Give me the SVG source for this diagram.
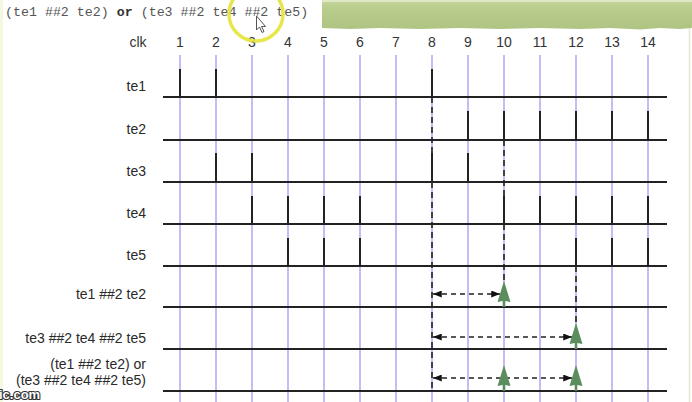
<svg xmlns="http://www.w3.org/2000/svg" width="692" height="402" viewBox="0 0 692 402">
<defs>
<style>
.bg{fill:#ffffff}
.grid{stroke:#bba9f6;stroke-width:1.6;fill:none}
.base{stroke:#222;stroke-width:2;fill:none}
.pulse{stroke:#222;stroke-width:2;fill:none}
.vdash{stroke:#222;stroke-width:1.6;stroke-dasharray:6 4;fill:none}
.hdash{stroke:#222;stroke-width:1.4;stroke-dasharray:5 4;fill:none}
.lbl{font-family:"Liberation Sans",Arial,sans-serif;font-size:14px;fill:#2a2a2a;text-anchor:end}
.num{font-family:"Liberation Sans",Arial,sans-serif;font-size:14px;fill:#333;text-anchor:middle}
.title{font-family:"Liberation Mono","Courier New",monospace;font-size:13.3px;fill:#555}
.garrow{fill:#5b8d5f}
</style>
<marker id="ah" viewBox="0 0 10 8" refX="10" refY="4" markerWidth="11" markerHeight="7" markerUnits="userSpaceOnUse" orient="auto-start-reverse">
<path d="M0,0 L10,4 L0,8 z" fill="#111"/>
</marker>
<path id="gup" d="M0,-26 L6.5,-5 L1.3,-6 L1.3,0 L-1.3,0 L-1.3,-6 L-6.5,-5 Z"/>
<linearGradient id="banner" x1="0" y1="0" x2="0" y2="1">
<stop offset="0" stop-color="#c6d79f"/>
<stop offset="0.3" stop-color="#b8cc8b"/>
<stop offset="1" stop-color="#afc482"/>
</linearGradient>
</defs>
<rect class="bg" x="0" y="0" width="692" height="402"/>
<rect x="0" y="0" width="3" height="402" fill="#f4f8df"/>
<line x1="689.5" y1="28" x2="689.5" y2="402" stroke="#e2e9cf" stroke-width="1.5"/>
<g id="banner-bar">
<path d="M322,0 H692 V28 L680,29 L660,28 L640,29.5 L610,28 L580,29 L540,28 L500,29 L460,28 L420,29 L380,28 L350,29 L322,28 Z" fill="url(#banner)"/>
<rect x="322" y="0" width="370" height="2" fill="#dfe8c6"/>
</g>
<g id="title">
<text class="title" x="5" y="16">(te1 ##2 te2) <tspan font-weight="bold" fill="#333">or</tspan> (te3 ##2 te4 ##2 te5)</text>
</g>
<g id="clock-grid">
<path class="grid" d="M180,55V402 M216,55V402 M252,55V402 M288,55V402 M324,55V402 M360,55V402 M396,55V402 M432,55V402 M468,55V402 M504,55V402 M540,55V402 M576,55V402 M612,55V402 M648,55V402"/>
<text class="num" x="138" y="47" font-size="13">clk</text>
<text class="num" x="180" y="47">1</text>
<text class="num" x="216" y="47">2</text>
<text class="num" x="252" y="47">3</text>
<text class="num" x="288" y="47">4</text>
<text class="num" x="324" y="47">5</text>
<text class="num" x="360" y="47">6</text>
<text class="num" x="396" y="47">7</text>
<text class="num" x="432" y="47">8</text>
<text class="num" x="468" y="47">9</text>
<text class="num" x="504" y="47">10</text>
<text class="num" x="540" y="47">11</text>
<text class="num" x="576" y="47">12</text>
<text class="num" x="612" y="47">13</text>
<text class="num" x="648" y="47">14</text>
</g>
<g id="row-te1">
<text class="lbl" x="146" y="91">te1</text>
<line class="base" x1="163" y1="97" x2="667" y2="97"/>
<path class="pulse" d="M180,97V69 M216,97V69 M432,97V69"/>
</g>
<g id="row-te2">
<text class="lbl" x="146" y="134">te2</text>
<line class="base" x1="163" y1="140" x2="667" y2="140"/>
<path class="pulse" d="M468,140V111 M504,140V111 M540,140V111 M576,140V111 M612,140V111 M648,140V111"/>
</g>
<g id="row-te3">
<text class="lbl" x="146" y="176">te3</text>
<line class="base" x1="163" y1="182" x2="667" y2="182"/>
<path class="pulse" d="M216,182V153 M252,182V153 M432,182V153 M468,182V153"/>
</g>
<g id="row-te4">
<text class="lbl" x="146" y="218">te4</text>
<line class="base" x1="163" y1="224" x2="667" y2="224"/>
<path class="pulse" d="M252,224V196 M288,224V196 M324,224V196 M360,224V196 M504,224V196 M540,224V196 M576,224V196 M612,224V196 M648,224V196"/>
</g>
<g id="row-te5">
<text class="lbl" x="146" y="260">te5</text>
<line class="base" x1="163" y1="266" x2="667" y2="266"/>
<path class="pulse" d="M288,266V238 M324,266V238 M360,266V238 M576,266V238 M612,266V238 M648,266V238"/>
</g>
<g id="row-seq1">
<text class="lbl" x="146" y="299">te1 ##2 te2</text>
<line class="base" x1="163" y1="307" x2="667" y2="307"/>
</g>
<g id="row-seq2">
<text class="lbl" x="146" y="343">te3 ##2 te4 ##2 te5</text>
<line class="base" x1="163" y1="349" x2="667" y2="349"/>
</g>
<g id="row-or">
<text class="lbl" x="146" y="369">(te1 ##2 te2) or</text>
<text class="lbl" x="146" y="385">(te3 ##2 te4 ##2 te5)</text>
<line class="base" x1="163" y1="391" x2="667" y2="391"/>
</g>
<g id="connectors">
<path class="vdash" d="M432,97V153 M432,182V391"/>
<path class="vdash" d="M504,140V196 M504,224V282"/>
<path class="vdash" d="M576,266V324"/>
<line class="hdash" x1="433" y1="294" x2="500" y2="294" marker-start="url(#ah)" marker-end="url(#ah)"/>
<line class="hdash" x1="433" y1="337" x2="572" y2="337" marker-start="url(#ah)" marker-end="url(#ah)"/>
<line class="hdash" x1="433" y1="378" x2="572" y2="378" marker-start="url(#ah)" marker-end="url(#ah)"/>
<use href="#gup" class="garrow" x="504" y="307"/>
<use href="#gup" class="garrow" x="576" y="349"/>
<use href="#gup" class="garrow" x="504" y="391"/>
<use href="#gup" class="garrow" x="576" y="391"/>
</g>
<g id="cursor-highlight">
<circle cx="256" cy="14" r="27" fill="none" stroke="#e6e33a" stroke-width="3.5" opacity="0.9"/>
<polygon points="256.5,16 256.5,30 259.5,27 262,32.5 264,31.5 261.5,26.5 265.5,26.5" fill="#fff" stroke="#555" stroke-width="1"/>
</g>
<g id="watermark">
<text x="-1" y="399" font-family="'Liberation Sans',Arial,sans-serif" font-size="13" font-weight="bold" fill="#fff" stroke="#333" stroke-width="2.2" paint-order="stroke" stroke-linejoin="round">ic.com</text>
</g>
</svg>
